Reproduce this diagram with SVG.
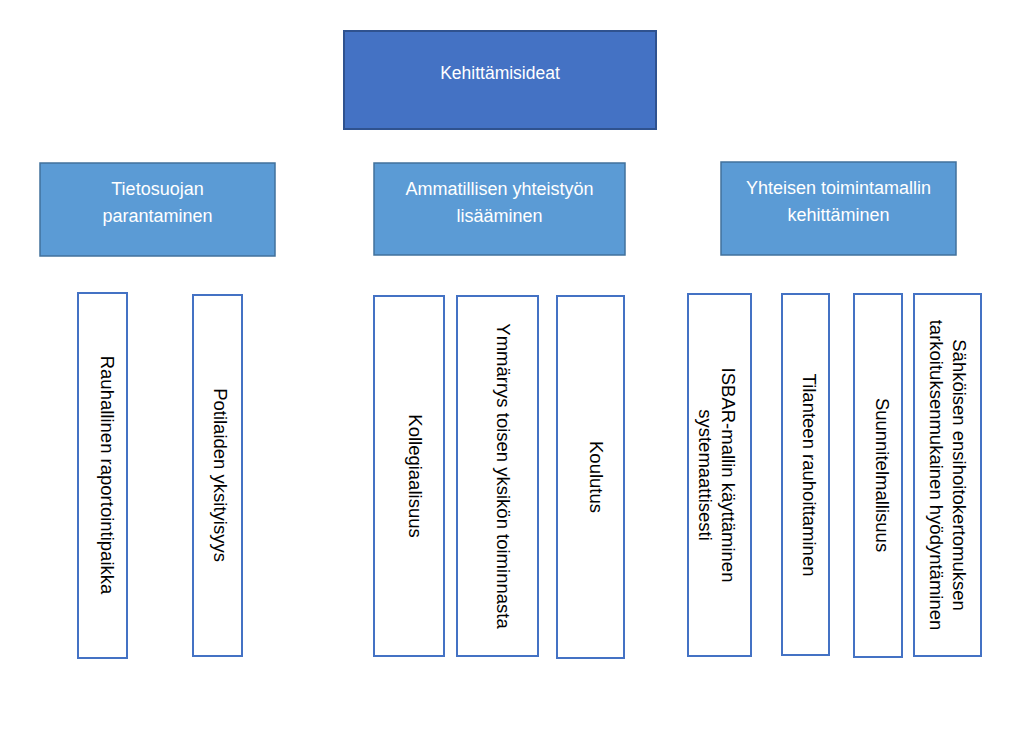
<svg xmlns="http://www.w3.org/2000/svg" width="1024" height="732" viewBox="0 0 1024 732">
<style>
  .root { fill: #4472C4; stroke: #2F528F; stroke-width: 2; }
  .cat { fill: #5B9BD5; stroke: #41719C; stroke-width: 1.5; }
  .leaf { fill: #FFFFFF; stroke: #4472C4; stroke-width: 2; }
  text { font-family: "Liberation Sans", Arial, sans-serif; }
  .wt { fill: #FFFFFF; font-size: 18px; text-anchor: middle; }
  .bt { fill: #000000; font-size: 18.5px; text-anchor: middle; }
</style>
<rect width="1024" height="732" fill="#FFFFFF"/>
<g id="connectors"/>
<g id="n-root">
  <rect class="root" x="344" y="31" width="312" height="98"/>
  <text class="wt" x="500" y="79" style="font-size:17.5px">Kehittämisideat</text>
</g>
<g id="n-tietosuoja">
  <rect class="cat" x="40" y="163" width="235" height="93"/>
  <text class="wt" x="157.5" y="195">Tietosuojan</text>
  <text class="wt" x="157.5" y="222">parantaminen</text>
</g>
<g id="n-ammatillinen">
  <rect class="cat" x="374" y="163" width="251" height="92"/>
  <text class="wt" x="499.5" y="195">Ammatillisen yhteistyön</text>
  <text class="wt" x="499.5" y="222">lisääminen</text>
</g>
<g id="n-yhteinen">
  <rect class="cat" x="721" y="162" width="235" height="93"/>
  <text class="wt" x="838.5" y="194">Yhteisen toimintamallin</text>
  <text class="wt" x="838.5" y="221">kehittäminen</text>
</g>
<g id="n-rauhallinen">
  <rect class="leaf" x="78" y="293" width="49" height="365"/>
  <text class="bt" transform="translate(101,475) rotate(90)">Rauhallinen raportointipaikka</text>
</g>
<g id="n-potilaiden">
  <rect class="leaf" x="193" y="295" width="49" height="361"/>
  <text class="bt" transform="translate(214,475) rotate(90)">Potilaiden yksityisyys</text>
</g>
<g id="n-kollegiaalisuus">
  <rect class="leaf" x="374" y="296" width="70" height="360"/>
  <text class="bt" transform="translate(409,476) rotate(90)">Kollegiaalisuus</text>
</g>
<g id="n-ymmarrys">
  <rect class="leaf" x="457" y="296" width="81" height="360"/>
  <text class="bt" transform="translate(497,476) rotate(90)">Ymmärrys toisen yksikön toiminnasta</text>
</g>
<g id="n-koulutus">
  <rect class="leaf" x="557" y="296" width="67" height="362"/>
  <text class="bt" transform="translate(590,477) rotate(90)">Koulutus</text>
</g>
<g id="n-isbar">
  <rect class="leaf" x="688" y="294" width="63" height="362"/>
  <text class="bt" transform="translate(722,475) rotate(90)">ISBAR-mallin käyttäminen</text>
  <text class="bt" transform="translate(699,475) rotate(90)">systemaattisesti</text>
</g>
<g id="n-tilanteen">
  <rect class="leaf" x="782" y="294" width="47" height="361"/>
  <text class="bt" transform="translate(803,475) rotate(90)">Tilanteen rauhoittaminen</text>
</g>
<g id="n-suunnitelmallisuus">
  <rect class="leaf" x="854" y="294" width="48" height="363"/>
  <text class="bt" transform="translate(876,475) rotate(90)">Suunnitelmallisuus</text>
</g>
<g id="n-sahkoisen">
  <rect class="leaf" x="914" y="294" width="67" height="362"/>
  <text class="bt" transform="translate(953,475) rotate(90)">Sähköisen ensihoitokertomuksen</text>
  <text class="bt" transform="translate(930,475) rotate(90)">tarkoituksenmukainen hyödyntäminen</text>
</g>
</svg>
